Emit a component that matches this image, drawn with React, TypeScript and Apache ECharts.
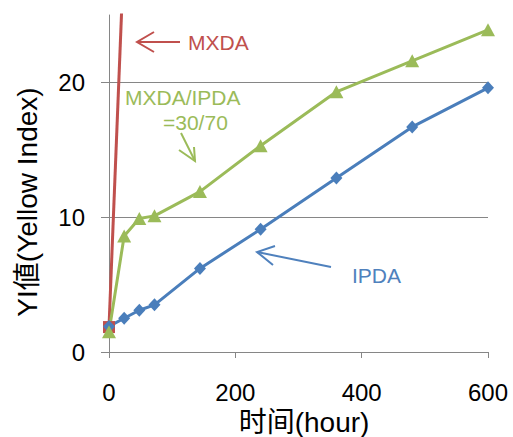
import React, { useEffect, useRef } from "react";
import * as echarts from "echarts";

const hours = [0, 24, 48, 72, 144, 240, 360, 480, 600];
const ipda = [1.9, 2.5, 3.1, 3.5, 6.2, 9.1, 12.9, 16.7, 19.6];
const blend = [1.5, 8.6, 9.9, 10.1, 11.9, 15.3, 19.3, 21.6, 23.9];
const mxdaHours = [0, 24];
const mxda = [1.85, 30];

const FONT = "'Liberation Sans', Arial, 'Noto Sans CJK JP', sans-serif";
const AXIS = "#868686";
const RED = "#c0504d";
const BLUE = "#4a7ebb";
const GREEN = "#9bbb59";

export default function App() {
  const ref = useRef<HTMLDivElement>(null);
  useEffect(() => {
    if (!ref.current) return;
    const chart = echarts.init(ref.current, null, { renderer: "svg" });
    const pair = (xs: number[], ys: number[]) => xs.map((x, i) => [x, ys[i]]);
    chart.setOption({
      animation: false,
      backgroundColor: "#ffffff",
      textStyle: { fontFamily: FONT },
      grid: { left: 109, right: 25, top: 15, bottom: 85, containLabel: false, outerBoundsMode: "none" },
      xAxis: {
        type: "value",
        min: 0,
        max: 600,
        interval: 200,
        axisLine: { show: true, onZero: false, lineStyle: { color: AXIS, width: 1 } },
        axisTick: { show: true, length: 6, lineStyle: { color: AXIS } },
        axisLabel: { color: "#000", fontSize: 24, fontFamily: FONT, margin: 28 },
        splitLine: { show: false },
      },
      yAxis: {
        type: "value",
        min: 0,
        max: 25,
        interval: 10,
        axisLine: { show: true, lineStyle: { color: AXIS, width: 1 } },
        axisTick: { show: true, length: 8, lineStyle: { color: AXIS } },
        axisLabel: { color: "#000", fontSize: 24, fontFamily: FONT, margin: 24, showMaxLabel: false },
        splitLine: { show: true, showMinLine: false, showMaxLine: false, lineStyle: { color: AXIS, width: 1 } },
      },
      series: [
        {
          name: "MXDA",
          type: "line",
          data: pair(mxdaHours, mxda),
          symbol: "rect",
          symbolSize: 12,
          showAllSymbol: true,
          clip: true,
          lineStyle: { color: RED, width: 3 },
          itemStyle: { color: RED },
        },
        {
          name: "IPDA",
          type: "line",
          data: pair(hours, ipda),
          symbol: "diamond",
          symbolSize: [12, 13],
          lineStyle: { color: BLUE, width: 3 },
          itemStyle: { color: BLUE },
        },
        {
          name: "MXDA/IPDA=30/70",
          type: "line",
          data: pair(hours, blend),
          symbol: "triangle",
          symbolSize: [14, 13],
          lineStyle: { color: GREEN, width: 3 },
          itemStyle: { color: GREEN },
        },
      ],
      graphic: [
        { type: "line", shape: { x1: 137, y1: 42, x2: 180, y2: 42 }, style: { stroke: RED, lineWidth: 2 } },
        { type: "polyline", shape: { points: [[154, 32], [137, 42], [154, 52]] }, style: { stroke: RED, lineWidth: 2, fill: null } },
        { type: "text", x: 188, y: 42, style: { text: "MXDA", fill: RED, font: `21px ${FONT}`, textVerticalAlign: "middle", textAlign: "left" } },
        { type: "text", x: 125, y: 97, style: { text: "MXDA/IPDA", fill: GREEN, font: `21px ${FONT}`, textVerticalAlign: "middle", textAlign: "left" } },
        { type: "text", x: 163, y: 122, style: { text: "=30/70", fill: GREEN, font: `21px ${FONT}`, textVerticalAlign: "middle", textAlign: "left" } },
        { type: "line", shape: { x1: 181, y1: 133, x2: 195, y2: 161 }, style: { stroke: GREEN, lineWidth: 2 } },
        { type: "polyline", shape: { points: [[179, 150], [195, 161], [194, 147]] }, style: { stroke: GREEN, lineWidth: 2, fill: null } },
        { type: "line", shape: { x1: 331, y1: 267, x2: 257, y2: 252 }, style: { stroke: "#4f81bd", lineWidth: 2 } },
        { type: "polyline", shape: { points: [[275, 246], [257, 252], [273, 265]] }, style: { stroke: "#4f81bd", lineWidth: 2, fill: null } },
        { type: "text", x: 352, y: 275, style: { text: "IPDA", fill: "#4f81bd", font: `21px ${FONT}`, textVerticalAlign: "middle", textAlign: "left" } },
        { type: "text", x: 27, y: 202, rotation: Math.PI / 2, style: { text: "YI値(Yellow Index)", fill: "#000", font: `28px ${FONT}`, textAlign: "center", textVerticalAlign: "middle" } },
        { type: "text", x: 304, y: 422, style: { text: "时间(hour)", fill: "#000", font: `28px ${FONT}`, textAlign: "center", textVerticalAlign: "middle" } },
      ],
    });
    return () => chart.dispose();
  }, []);
  return <div ref={ref} style={{ position: "fixed", left: 0, top: 0, width: 513, height: 437 }} />;
}
